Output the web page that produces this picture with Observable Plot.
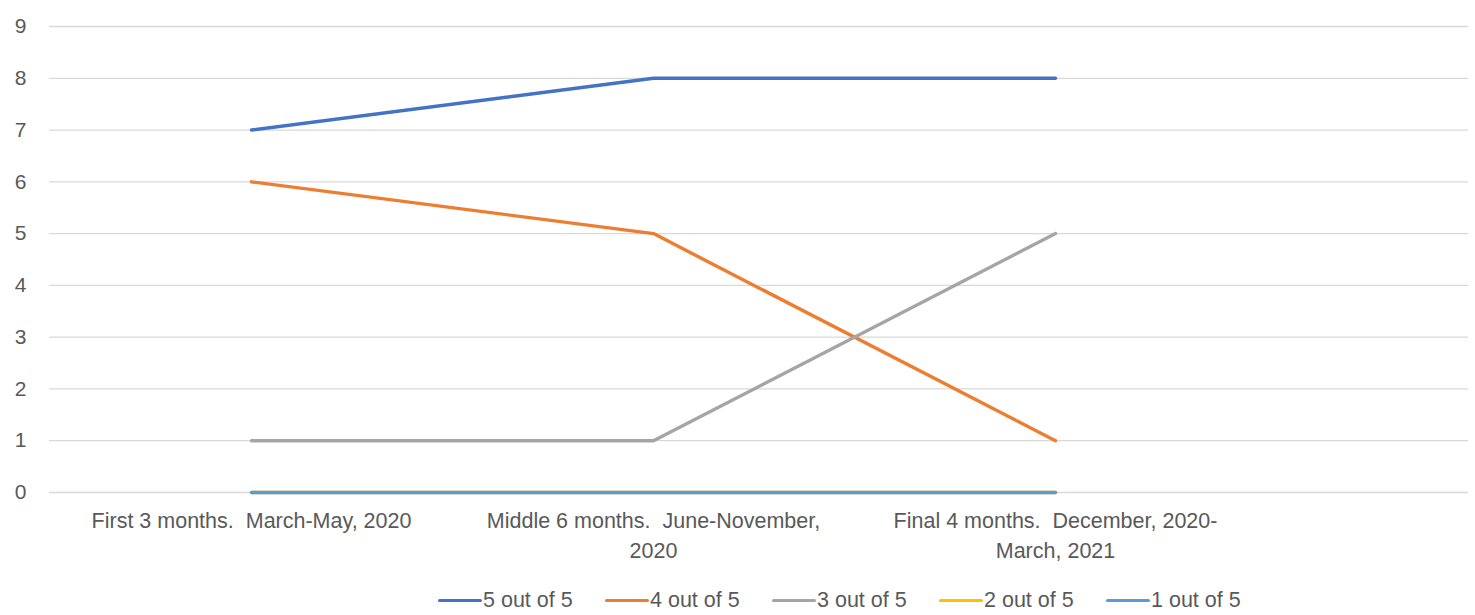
<!DOCTYPE html>
<html>
<head>
<meta charset="utf-8">
<script src="https://cdn.jsdelivr.net/npm/d3@7"></script>
<script src="https://cdn.jsdelivr.net/npm/@observablehq/plot@0.6"></script>
<style>
  html, body { margin: 0; padding: 0; background: #ffffff; }
  body { width: 1475px; height: 615px; overflow: hidden; font-family: "Liberation Sans", "DejaVu Sans", sans-serif; }
  #chart svg { display: block; }
  #legend { display: flex; align-items: center; height: 31px; padding-left: 438px; color: #595959; font-size: 21.5px; }
  .item { display: flex; align-items: center; flex: none; width: 167px; }
  .swatch { width: 44px; height: 3.4px; border-radius: 2px; margin-right: 1px; }
</style>
</head>
<body>
<div id="chart"></div>
<div id="legend"></div>
<script>
// Reporting periods (categories on the x axis)
const categories = [
  "First 3 months.  March-May, 2020",
  "Middle 6 months.  June-November, 2020",
  "Final 4 months.  December, 2020-March, 2021"
];
// Wrapped tick labels for the periods
const xTickLabels = [
  "First 3 months.  March-May, 2020",
  "Middle 6 months.  June-November,\n2020",
  "Final 4 months.  December, 2020-\nMarch, 2021"
];
// Rating series, in drawing order
const seriesNames = ["5 out of 5", "4 out of 5", "3 out of 5", "2 out of 5", "1 out of 5"];
const fiveOutOfFive = [7, 8, 8];
const fourOutOfFive = [6, 5, 1];
const threeOutOfFive = [1, 1, 5];
const twoOutOfFive = [0, 0, 0];
const oneOutOfFive = [0, 0, 0];
const yTicks = [0, 1, 2, 3, 4, 5, 6, 7, 8, 9];

const seriesColors = ["#4472C4", "#ED7D31", "#A5A5A5", "#FFC000", "#5B9BD5"];
const seriesValues = [fiveOutOfFive, fourOutOfFive, threeOutOfFive, twoOutOfFive, oneOutOfFive];

const rows = seriesNames.flatMap((name, s) =>
  categories.map((period, i) => ({ series: name, period, value: seriesValues[s][i] }))
);

const textColor = "#595959";
const font = "Liberation Sans, DejaVu Sans, sans-serif";

const chart = Plot.plot({
  width: 1475,
  height: 585,
  marginLeft: 49,
  marginRight: 7,
  marginTop: 26,
  marginBottom: 93,
  style: { fontFamily: font, fontSize: "21.5px", color: textColor, background: "#ffffff" },
  x: { type: "point", domain: categories, range: [250, 1055], padding: 0 },
  y: { domain: [0, 9] },
  color: { domain: seriesNames, range: seriesColors },
  marks: [
    Plot.gridY(yTicks, { stroke: "#D9D9D9", strokeOpacity: 1, strokeWidth: 1.3 }),
    Plot.axisY(yTicks, {
      tickSize: 0, tickPadding: 23, fill: textColor, fontSize: 21, label: null,
      tickFormat: d => String(d)
    }),
    Plot.axisX({
      tickSize: 0, tickPadding: 15, fill: textColor, fontSize: 21.5, label: null,
      lineHeight: 1.37,
      tickFormat: (d) => xTickLabels[categories.indexOf(d)].replace(/  /g, " \u00a0")
    }),
    Plot.line(rows, {
      x: "period", y: "value", z: "series", stroke: "series",
      strokeWidth: 3.4, strokeLinecap: "round", strokeLinejoin: "round"
    })
  ]
});
document.getElementById("chart").appendChild(chart);

// Legend below the chart
const legend = d3.select("#legend");
seriesNames.forEach((name, i) => {
  const item = legend.append("div").attr("class", "item");
  item.append("div").attr("class", "swatch").style("background", seriesColors[i]);
  item.append("span").text(name);
});
</script>
</body>
</html>
